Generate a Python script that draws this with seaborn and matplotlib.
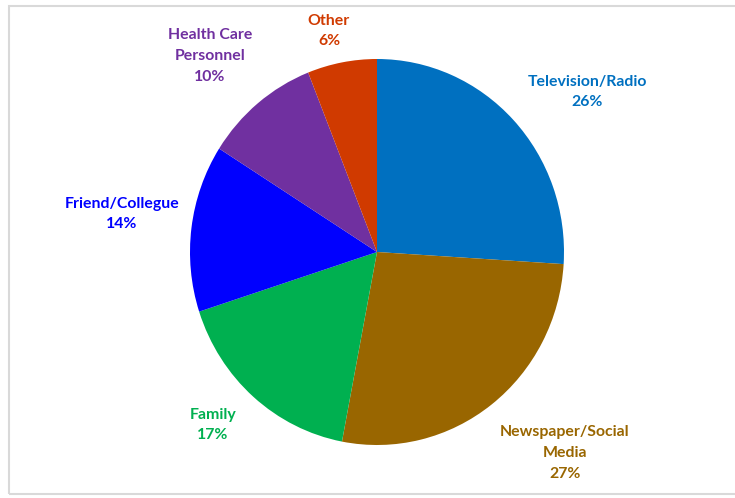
import matplotlib
matplotlib.use("Agg")
import matplotlib.pyplot as plt
import seaborn as sns
from matplotlib.patches import Rectangle

categories = ["Television/Radio", "Newspaper/Social\nMedia", "Family",
              "Friend/Collegue", "Health Care\nPersonnel", "Other"]
values = [26, 27, 17, 14, 10, 6]
colors = ["#0070C0", "#996600", "#00B050", "#0000FF", "#7030A0", "#D03A00"]

# label anchor positions in figure pixels (x, y from top)
label_pos = [(587, 92), (565, 453), (213, 425), (122, 214), (210, 56), (329, 31)]

sns.set_theme(style="white")
plt.rcParams['font.family'] = ['Lato', 'DejaVu Sans']

W, H = 735, 498
fig = plt.figure(figsize=(W / 100, H / 100), dpi=100)
fig.patch.set_facecolor("white")

cx, cy, rx, ry = 377, 252, 187, 193
ax = fig.add_axes([(cx - rx) / W, (H - cy - ry) / H, 2 * rx / W, 2 * ry / H])
ax.pie(values, colors=colors, startangle=90, counterclock=False,
       wedgeprops=dict(linewidth=0))
ax.set_aspect("auto")
ax.set_xlim(-1, 1)
ax.set_ylim(-1, 1)
ax.axis("off")

for cat, v, col, (x, y) in zip(categories, values, colors, label_pos):
    fig.text(x / W, 1 - y / H, f"{cat}\n{v}%", color=col, fontsize=11.4,
             fontweight="bold", ha="center", va="center", linespacing=1.62,
             multialignment="center")

# light frame
fig.add_artist(Rectangle((8.5 / W, 4 / H), 2, 1 - 10.5 / H,
                         transform=fig.transFigure, fill=False,
                         edgecolor="#d9d9d9", linewidth=1.5))

fig.savefig("out.png", dpi=100)
